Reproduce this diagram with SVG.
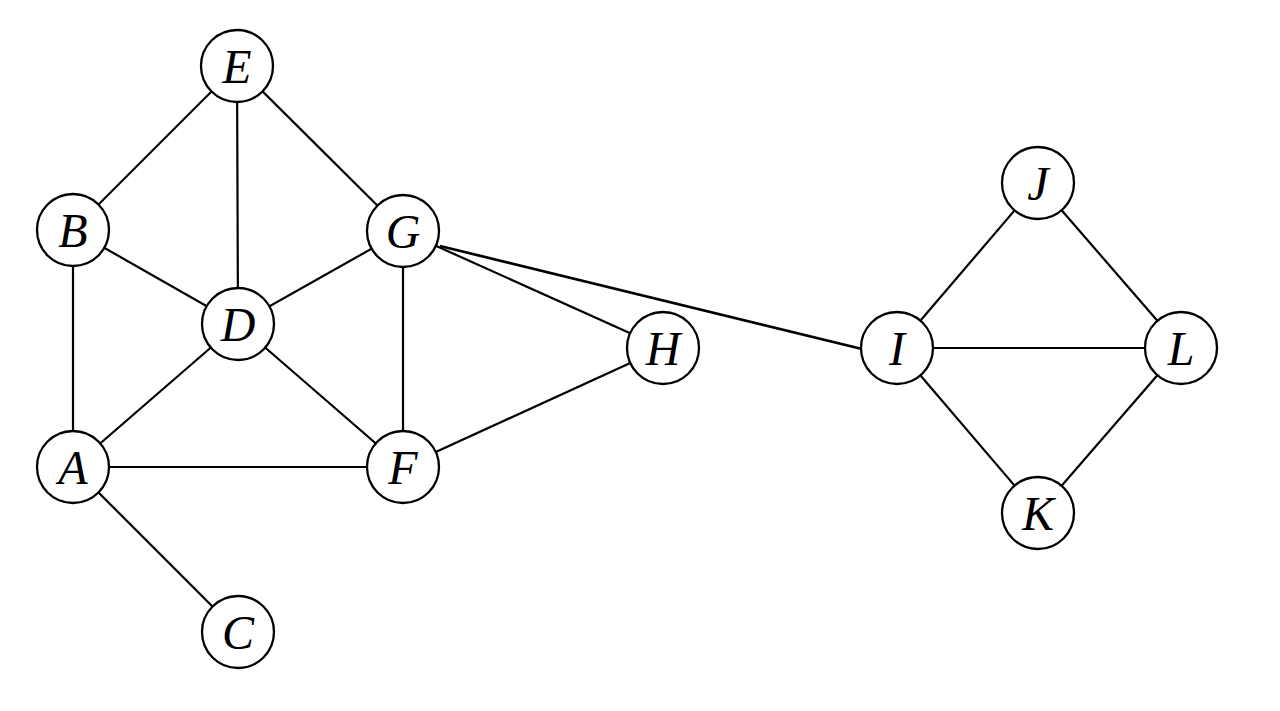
<svg xmlns="http://www.w3.org/2000/svg" width="1280" height="711" viewBox="0 0 1280 711">
<style>
.e{stroke:#000;stroke-width:2.2;fill:none}
.n circle{fill:#fff;stroke:#000;stroke-width:2.3}
.n text{font-family:"Liberation Serif",serif;font-style:italic;font-size:48px;text-anchor:middle;fill:#000}
</style>
<rect width="1280" height="711" fill="#fff"/>
<g id="edges">
<line class="e" x1="237" y1="66" x2="73" y2="230"/>
<line class="e" x1="237" y1="66" x2="238" y2="324"/>
<line class="e" x1="237" y1="66" x2="403" y2="231"/>
<line class="e" x1="73" y1="230" x2="238" y2="324"/>
<line class="e" x1="73" y1="230" x2="73" y2="467"/>
<line class="e" x1="403" y1="231" x2="238" y2="324"/>
<line class="e" x1="403" y1="231" x2="403" y2="467"/>
<line class="e" x1="403" y1="231" x2="663" y2="348"/>
<line class="e" x1="440" y1="246" x2="862" y2="349" style="stroke-width:2.7"/>
<line class="e" x1="238" y1="324" x2="73" y2="467"/>
<line class="e" x1="238" y1="324" x2="403" y2="467"/>
<line class="e" x1="73" y1="467" x2="403" y2="467"/>
<line class="e" x1="73" y1="467" x2="238" y2="632"/>
<line class="e" x1="403" y1="467" x2="663" y2="348"/>
<line class="e" x1="1038" y1="183" x2="897" y2="348"/>
<line class="e" x1="1038" y1="183" x2="1181" y2="348"/>
<line class="e" x1="897" y1="348" x2="1181" y2="348"/>
<line class="e" x1="897" y1="348" x2="1038" y2="513"/>
<line class="e" x1="1181" y1="348" x2="1038" y2="513"/>
</g>
<g id="E" class="n"><circle cx="237" cy="66" r="36"/><text x="237" y="83">E</text></g>
<g id="B" class="n"><circle cx="73" cy="230" r="36"/><text x="73" y="247">B</text></g>
<g id="G" class="n"><circle cx="403" cy="231" r="36"/><text x="403" y="248">G</text></g>
<g id="D" class="n"><circle cx="238" cy="324" r="36"/><text x="238" y="341">D</text></g>
<g id="H" class="n"><circle cx="663" cy="348" r="36"/><text x="663" y="365">H</text></g>
<g id="A" class="n"><circle cx="73" cy="467" r="36"/><text x="73" y="484">A</text></g>
<g id="F" class="n"><circle cx="403" cy="467" r="36"/><text x="403" y="484">F</text></g>
<g id="C" class="n"><circle cx="238" cy="632" r="36"/><text x="238" y="649">C</text></g>
<g id="J" class="n"><circle cx="1038" cy="183" r="36"/><text x="1038" y="200">J</text></g>
<g id="I" class="n"><circle cx="897" cy="348" r="36"/><text x="897" y="365">I</text></g>
<g id="L" class="n"><circle cx="1181" cy="348" r="36"/><text x="1181" y="365">L</text></g>
<g id="K" class="n"><circle cx="1038" cy="513" r="36"/><text x="1038" y="530">K</text></g>
</svg>
